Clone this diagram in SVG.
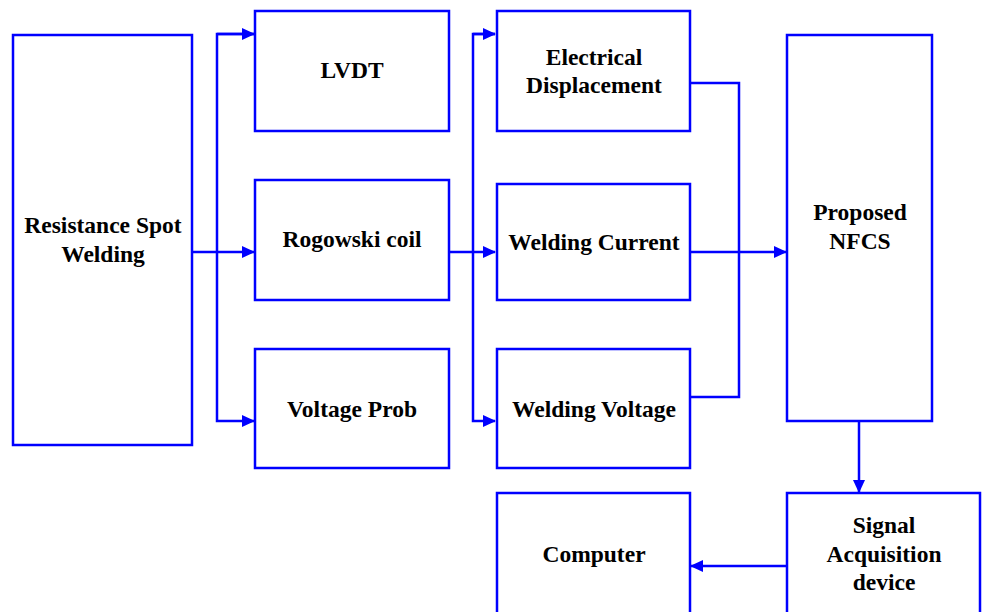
<svg xmlns="http://www.w3.org/2000/svg" width="982" height="612" viewBox="0 0 982 612">
<style>
.box{fill:#fff;stroke:#0000ff;stroke-width:2.5}
.ln{fill:none;stroke:#0000ff;stroke-width:2.5}
.t{font-family:"Liberation Serif","Times New Roman",serif;font-weight:bold;font-size:23.5px;fill:#000;text-anchor:middle}
</style>
<defs>
<marker id="ah" markerWidth="13" markerHeight="12" refX="12" refY="6" orient="auto" markerUnits="userSpaceOnUse">
<path d="M0,0 L13,6 L0,12 Z" fill="#0000ff"/>
</marker>
</defs>
<rect width="982" height="612" fill="#fff"/>
<g id="connectors">
<path class="ln" d="M192,252 H254" marker-end="url(#ah)"/>
<path class="ln" d="M254,34 H217 V421 H254" marker-end="url(#ah)"/>
<path class="ln" d="M217,34 H254" marker-end="url(#ah)"/>
<path class="ln" d="M449,252 H495" marker-end="url(#ah)"/>
<path class="ln" d="M495,34 H473 V421 H495" marker-end="url(#ah)"/>
<path class="ln" d="M473,34 H495" marker-end="url(#ah)"/>
<path class="ln" d="M690,83 H739 V397 H690"/>
<path class="ln" d="M690,252 H786" marker-end="url(#ah)"/>
<path class="ln" d="M859,421 V492" marker-end="url(#ah)"/>
<path class="ln" d="M787,566 H691" marker-end="url(#ah)"/>
</g>
<g id="rsw"><rect class="box" x="13" y="35" width="179" height="410"/><text class="t" x="103" y="233">Resistance Spot</text><text class="t" x="103" y="262">Welding</text></g>
<g id="lvdt"><rect class="box" x="255" y="11" width="194" height="120"/><text class="t" x="352" y="78">LVDT</text></g>
<g id="rogowski"><rect class="box" x="255" y="180" width="194" height="120"/><text class="t" x="352" y="247">Rogowski coil</text></g>
<g id="vprob"><rect class="box" x="255" y="349" width="194" height="119"/><text class="t" x="352" y="417">Voltage Prob</text></g>
<g id="edisp"><rect class="box" x="497" y="11" width="193" height="120"/><text class="t" x="594" y="65">Electrical</text><text class="t" x="594" y="93">Displacement</text></g>
<g id="wcurrent"><rect class="box" x="497" y="184" width="193" height="116"/><text class="t" x="594" y="250">Welding Current</text></g>
<g id="wvoltage"><rect class="box" x="497" y="349" width="193" height="119"/><text class="t" x="594" y="417">Welding Voltage</text></g>
<g id="nfcs"><rect class="box" x="787" y="35" width="145" height="386"/><text class="t" x="860" y="220">Proposed</text><text class="t" x="860" y="249">NFCS</text></g>
<g id="computer"><rect class="box" x="497" y="493" width="193" height="130"/><text class="t" x="594" y="562">Computer</text></g>
<g id="sad"><rect class="box" x="787" y="493" width="193" height="130"/><text class="t" x="884" y="533">Signal</text><text class="t" x="884" y="562">Acquisition</text><text class="t" x="884" y="590">device</text></g>
</svg>
